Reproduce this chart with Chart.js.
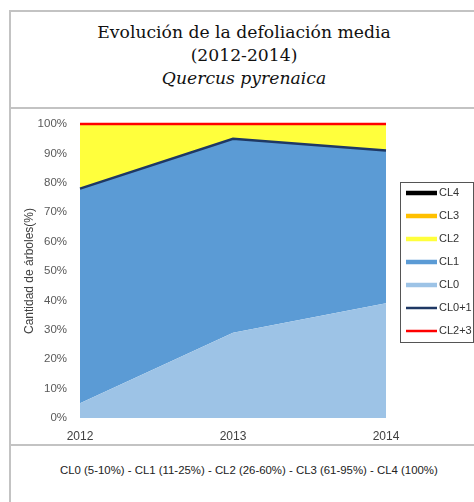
<!DOCTYPE html>
<html>
<head>
<meta charset="utf-8">
<script src="https://cdn.jsdelivr.net/npm/chart.js@4"></script>
<style>
  html, body { margin: 0; padding: 0; background: #fff; }
  body { width: 474px; height: 502px; position: relative; overflow: hidden; }
  #frame { position: absolute; left: 9px; top: 10px; width: 480px; height: 500px; border-left: 2px solid #c3c3c3; border-top: 2px solid #c3c3c3; }
  .rule { position: absolute; left: 9px; width: 480px; height: 2px; background: #c3c3c3; }
  #head { position: absolute; left: 0; top: 10px; width: 488px; font-family: "DejaVu Serif", serif; font-size: 17.2px; color: #111; text-align: center; }
  #head div { position: absolute; left: 0; right: 0; }
  #foot { position: absolute; left: 60px; top: 464px; font-family: "Liberation Sans", Arial, sans-serif; font-size: 11.4px; color: #222; white-space: nowrap; }
  #wrap { position: absolute; left: 0; top: 109px; width: 474px; height: 336px; }
</style>
</head>
<body>
<div id="frame"></div>
<div class="rule" style="top:107px"></div>
<div class="rule" style="top:444px"></div>
<div id="head">
  <div style="top:12px">Evolución de la defoliación media</div>
  <div style="top:35px">(2012-2014)</div>
  <div style="top:58px"><i>Quercus pyrenaica</i></div>
</div>
<div id="foot">CL0 (5-10%) - CL1 (11-25%) - CL2 (26-60%) - CL3 (61-95%) - CL4 (100%)</div>
<div id="wrap"><canvas id="chart"></canvas></div>
<script>
// años y porcentajes de árboles por clase de defoliación
const years = ['2012', '2013', '2014'];
const cl0 = [5, 29, 39];
const cl1 = [73, 66, 52];
const cl2 = [22, 5, 9];
const cl3 = [0, 0, 0];
const cl4 = [0, 0, 0];
// líneas acumuladas (apiladas aparte)
const cl01 = [78, 95, 91];
const cl23 = [22, 5, 9];

const legendOrder = ['CL4', 'CL3', 'CL2', 'CL1', 'CL0', 'CL0+1', 'CL2+3'];

function area(label, data, color, fill) {
  return {
    label: label, data: data, stack: 'areas', order: 1,
    backgroundColor: color, borderColor: color, legendWidth: 4.5,
    borderWidth: 0, pointRadius: 0, tension: 0, fill: fill
  };
}

function line(label, data, color) {
  return {
    label: label, data: data, stack: 'lines', order: 0, clip: false,
    borderColor: color, backgroundColor: color, legendWidth: 2.5,
    borderWidth: 2.5, pointRadius: 0, tension: 0, fill: false
  };
}

// leyenda con marco, dibujada sobre el canvas
const boxedLegend = {
  id: 'boxedLegend',
  afterDraw(chart) {
    const ctx = chart.ctx;
    const x = 400, y = 73, w = 73, h = 160, step = 23;
    ctx.save();
    ctx.strokeStyle = '#555';
    ctx.lineWidth = 1;
    ctx.strokeRect(x + 0.5, y + 0.5, w, h);
    ctx.font = '11px "Liberation Sans", Arial, sans-serif';
    ctx.textBaseline = 'middle';
    legendOrder.forEach((name, i) => {
      const ds = chart.data.datasets.find(d => d.label === name);
      const cy = y + 11 + i * step;
      ctx.strokeStyle = ds.borderColor;
      ctx.lineWidth = ds.legendWidth;
      ctx.beginPath();
      ctx.moveTo(x + 6, cy);
      ctx.lineTo(x + 37, cy);
      ctx.stroke();
      ctx.fillStyle = '#333';
      ctx.fillText(name, x + 39, cy);
    });
    ctx.restore();
  }
};

const ctx = document.getElementById('chart').getContext('2d');
const chart = new Chart(ctx, {
  type: 'line',
  data: {
    labels: years,
    datasets: [
      area('CL0', cl0, '#9dc3e6', 'origin'),
      area('CL1', cl1, '#5b9bd5', '-1'),
      area('CL2', cl2, '#ffff3c', '-1'),
      area('CL3', cl3, '#ffc000', '-1'),
      area('CL4', cl4, '#000000', '-1'),
      line('CL0+1', cl01, '#1f3864'),
      line('CL2+3', cl23, '#ff0000')
    ]
  },
  options: {
    responsive: true,
    maintainAspectRatio: false,
    animation: false,
    layout: { padding: { left: 18, right: 88, top: 15, bottom: 0 } },
    plugins: {
      legend: { display: false },
      tooltip: { enabled: false }
    },
    scales: {
      x: {
        offset: false,
        grid: { display: false, drawTicks: false },
        border: { display: false },
        afterFit: s => { s.height = 27; s.paddingLeft = 0; s.paddingRight = 0; },
        ticks: { color: '#404040', padding: 11, maxRotation: 0, font: { family: 'Liberation Sans', size: 12 } }
      },
      y: {
        stacked: true,
        min: 0,
        max: 100,
        afterFit: s => { s.width = 62; s.paddingTop = 0; s.paddingBottom = 0; },
        grid: { display: false, drawTicks: false },
        border: { display: false },
        ticks: {
          stepSize: 10, padding: 13, color: '#595959',
          font: { family: 'Liberation Sans', size: 11.5 },
          callback: v => v + '%'
        },
        title: {
          display: true, text: 'Cantidad de árboles(%)', color: '#404040',
          padding: { top: 4, bottom: 0 },
          font: { family: 'Liberation Sans', size: 12 }
        }
      }
    }
  },
  plugins: [boxedLegend]
});
</script>
</body>
</html>
